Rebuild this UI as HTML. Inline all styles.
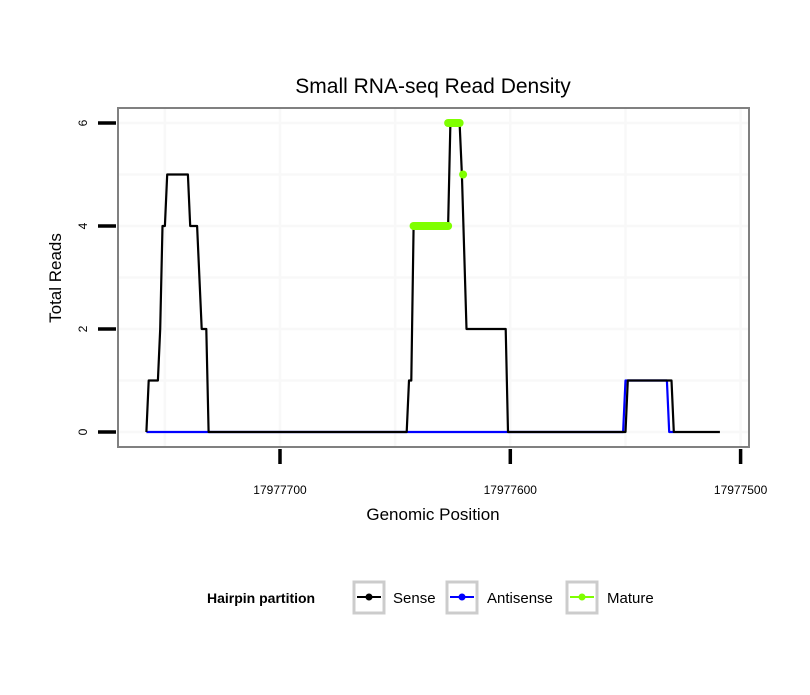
<!DOCTYPE html>
<html><head><meta charset="utf-8"><style>
body{margin:0;background:#fff;font-family:"Liberation Sans",sans-serif}
</style></head><body>
<svg width="810" height="690" viewBox="0 0 810 690" id="c" font-family="Liberation Sans, sans-serif">
<rect width="810" height="690" fill="#fff"/>
<text x="433" y="93" font-size="21" text-anchor="middle">Small RNA-seq Read Density</text>
<g id="grid"></g>
<g id="marks"></g>
<rect x="118" y="108" width="631" height="339" fill="none" stroke="#808080" stroke-width="2"/>
<g id="axes"></g>
<text x="433" y="520" font-size="17" text-anchor="middle">Genomic Position</text>
<text transform="translate(61,278) rotate(-90)" font-size="17" text-anchor="middle">Total Reads</text>
<g>
<text x="207" y="603" font-size="14" font-weight="bold">Hairpin partition</text>
<g>
<rect x="354" y="582" width="30" height="31" fill="#fff" stroke="#ccc" stroke-width="3"/>
<line x1="357" y1="597" x2="381" y2="597" stroke="#000" stroke-width="2"/><circle cx="369" cy="597" r="3.5" fill="#000"/>
<text x="393" y="603" font-size="15">Sense</text></g>
<g>
<rect x="447" y="582" width="30" height="31" fill="#fff" stroke="#ccc" stroke-width="3"/>
<line x1="450" y1="597" x2="474" y2="597" stroke="#00f" stroke-width="2"/><circle cx="462" cy="597" r="3.5" fill="#00f"/>
<text x="487" y="603" font-size="15">Antisense</text></g>
<g>
<rect x="567" y="582" width="30" height="31" fill="#fff" stroke="#ccc" stroke-width="3"/>
<line x1="570" y1="597" x2="594" y2="597" stroke="#7fff00" stroke-width="2"/><circle cx="582" cy="597" r="3.5" fill="#7fff00"/>
<text x="607" y="603" font-size="15">Mature</text></g>
</g>
</svg>
<script>
const senseX=[17977758,17977757,17977753,17977752,17977751,17977750,17977749,17977740,17977739,17977736,17977734,17977732,17977731,17977645,17977644,17977643,17977642,17977627,17977626,17977622,17977621,17977619,17977602,17977601,17977550,17977549,17977530,17977529,17977509];
const senseY=[0,1,1,2,4,4,5,5,4,4,2,2,0,0,1,1,4,4,6,6,5,2,2,0,0,1,1,0,0];
const antiX=[17977758,17977551,17977550,17977532,17977531,17977529];
const antiY=[0,0,1,1,0,0];
const matureStart=[17977642,17977627,17977620.5];
const matureEnd=[17977627,17977622,17977620.5];
const matureY=[4,6,5];
const xTicks=[17977700,17977600,17977500];
const yTicks=[0,2,4,6];
const NS='http://www.w3.org/2000/svg';
function X(p){return 280+(17977700-p)*2.303;}
function Y(v){return 432-v*51.5;}
function mk(tag,attrs,parent){const e=document.createElementNS(NS,tag);for(const k in attrs)e.setAttribute(k,attrs[k]);parent.appendChild(e);return e;}
const grid=document.getElementById('grid'),marks=document.getElementById('marks'),axes=document.getElementById('axes');
for(let v=0;v<=6.5;v+=1){const l=mk('line',{x1:119,x2:748,y1:Y(v),y2:Y(v),stroke:'#f8f8f8','stroke-width':2.5},grid);

}
for(let p=17977750;p>=17977490;p-=50){const x=X(p);if(x<119||x>748)continue;const l=mk('line',{x1:x,x2:x,y1:109,y2:446,stroke:'#f8f8f8','stroke-width':2.5},grid);

}
function path(xs,ys,color,name){let d='';xs.forEach((p,i)=>{d+=(i?'L':'M')+X(p).toFixed(1)+','+Y(ys[i]).toFixed(1);});
const e=mk('path',{d:d,fill:'none',stroke:color,'stroke-width':2.2,'stroke-linejoin':'round'},marks);

}
path(antiX,antiY,'#0000ff','antisense-line');
path(senseX,senseY,'#000000','sense-line');
matureY.forEach((v,i)=>{const e=mk('line',{x1:X(matureStart[i]),x2:X(matureEnd[i]),y1:Y(v),y2:Y(v),stroke:'#7fff00','stroke-width':8,'stroke-linecap':'round'},marks);

});
yTicks.forEach(v=>{const t=mk('line',{x1:98,x2:116,y1:Y(v),y2:Y(v),stroke:'#000','stroke-width':3.5},axes);


const tx=mk('text',{transform:`translate(87,${Y(v)}) rotate(-90)`,'font-size':12,'text-anchor':'middle'},axes);tx.textContent=v;

});
xTicks.forEach(p=>{const t=mk('line',{x1:X(p),x2:X(p),y1:449,y2:464,stroke:'#000','stroke-width':3.5},axes);


const tx=mk('text',{x:X(p),y:494,'font-size':12,'text-anchor':'middle'},axes);tx.textContent=p;

});
</script>
</body></html>
